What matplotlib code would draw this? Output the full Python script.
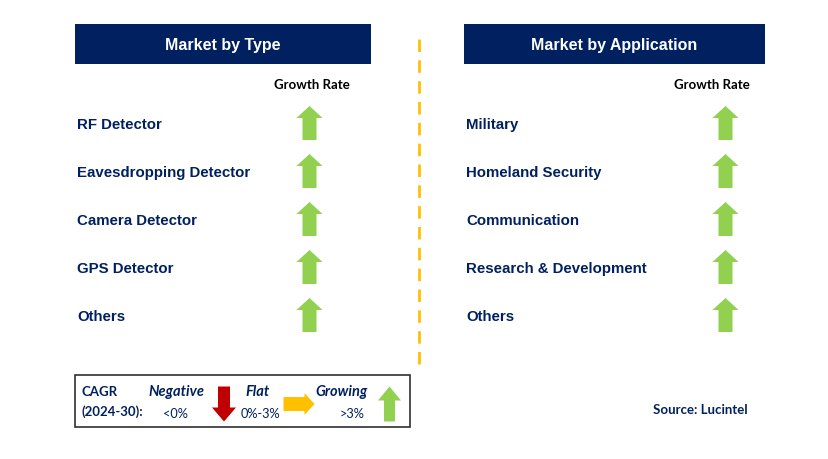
import matplotlib.pyplot as plt
from matplotlib.patches import Rectangle, Polygon

W, H = 829, 460
navy = "#002060"
green = "#92D050"
red = "#C00000"
orange = "#FFC000"

# data
type_labels = ["RF Detector", "Eavesdropping Detector", "Camera Detector", "GPS Detector", "Others"]
type_growth = ["up", "up", "up", "up", "up"]
app_labels = ["Military", "Homeland Security", "Communication", "Research & Development", "Others"]
app_growth = ["up", "up", "up", "up", "up"]
row_y = [124, 172, 220, 268, 316]

fig = plt.figure(figsize=(W / 100, H / 100), dpi=100)
ax = fig.add_axes([0, 0, 1, 1])
ax.set_xlim(0, W)
ax.set_ylim(H, 0)
ax.axis("off")

bold = dict(family="Liberation Sans", fontweight="bold")
cal = ["Lato", "DejaVu Sans"]


def arrow(cx, cy, length, head_w, shaft_w, head_len, direction, color):
    # polygon arrow pointing up, down or right, centred on (cx, cy)
    h2, s2, L2 = head_w / 2, shaft_w / 2, length / 2
    pts = [(-s2, L2), (-s2, -L2 + head_len), (-h2, -L2 + head_len), (0, -L2),
           (h2, -L2 + head_len), (s2, -L2 + head_len), (s2, L2)]
    if direction == "down":
        pts = [(x, -y) for x, y in pts]
    elif direction == "right":
        pts = [(-y, x) for x, y in pts]
    ax.add_patch(Polygon([(cx + x, cy + y) for x, y in pts], closed=True,
                         facecolor=color, edgecolor="none"))


def panel(x0, x1, title, labels, growth, arrow_x, rate_x):
    ax.add_patch(Rectangle((x0, 25), x1 - x0, 40, facecolor=navy, edgecolor="none"))
    ax.text((x0 + x1) / 2, 45.5, title, color="white", fontsize=11.5, ha="center", va="center", **bold)
    ax.text(rate_x, 85, "Growth Rate", color="black", fontsize=9.5, ha="center", va="center",
            family=cal, fontweight="bold")
    for lab, g, y in zip(labels, growth, row_y):
        ax.text(x0 + 2, y + 1, lab, color=navy, fontsize=10.8, ha="left", va="center", **bold)
        arrow(arrow_x, y, 34, 26, 14, 12, g, green)


panel(75, 371, "Market by Type", type_labels, type_growth, 309.5, 312)
panel(464, 765, "Market by Application", app_labels, app_growth, 725.5, 712)

ax.plot([419, 419], [40, 366], color=orange, lw=2, linestyle=(0, (4.5, 3)))

# legend box
ax.add_patch(Rectangle((75, 376), 335, 52, facecolor="white", edgecolor="#303030", lw=1.2))
ax.text(82, 392, "CAGR", color=navy, fontsize=9.5, ha="left", va="center", family=cal, fontweight="bold")
ax.text(82, 412, "(2024-30):", color=navy, fontsize=9.5, ha="left", va="center", family=cal, fontweight="bold")
ax.text(176, 392, "Negative", color=navy, fontsize=10.5, ha="center", va="center", family=cal,
        fontweight="bold", style="italic")
ax.text(175, 414, "<0%", color=navy, fontsize=9.2, ha="center", va="center", family=cal)
arrow(224, 405, 35, 24, 12, 14, "down", red)
ax.text(258, 392, "Flat", color=navy, fontsize=10.5, ha="center", va="center", family=cal,
        fontweight="bold", style="italic")
ax.text(260, 414, "0%-3%", color=navy, fontsize=9.2, ha="center", va="center", family=cal)
arrow(299, 405, 31, 22, 14, 10, "right", orange)
ax.text(342, 392, "Growing", color=navy, fontsize=10.5, ha="center", va="center", family=cal,
        fontweight="bold", style="italic")
ax.text(352, 414, ">3%", color=navy, fontsize=9.2, ha="center", va="center", family=cal)
arrow(389.5, 405, 35, 23, 11, 14, "up", green)

ax.text(700, 410, "Source: Lucintel", color=navy, fontsize=9.5, ha="center", va="center",
        family=cal, fontweight="bold")

fig.savefig("out.png", dpi=100)
